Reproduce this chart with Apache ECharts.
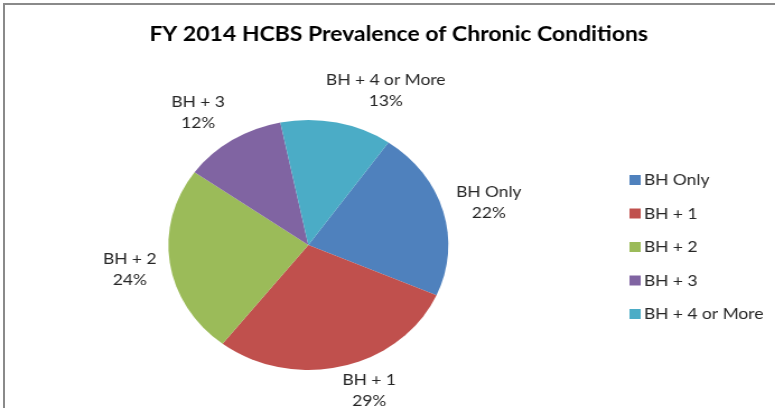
<!DOCTYPE html>
<html>
<head>
<meta charset="utf-8">
<script src="https://cdn.jsdelivr.net/npm/echarts@6/dist/echarts.min.js"></script>
<style>
  html, body { margin: 0; padding: 0; background: #ffffff; overflow: hidden; width: 775px; height: 408px; }
  #frame { position: absolute; left: 3px; top: 3px; width: 900px; height: 600px;
           border-left: 2px solid #8a8a8a; border-top: 2px solid #8a8a8a; }
  #chart { position: absolute; left: 0; top: 0; width: 692px; height: 408px;
           transform: scaleX(1.12); transform-origin: 0 0; }
</style>
</head>
<body>
<div id="frame"></div>
<div id="chart"></div>
<script>
const titleText = 'FY 2014 HCBS Prevalence of Chronic Conditions';
const categories = ['BH Only', 'BH + 1', 'BH + 2', 'BH + 3', 'BH + 4 or More'];
const values = [21.9, 28.9, 24.4, 11.9, 12.9];
const colors = ['#4F81BD', '#C0504D', '#9BBB59', '#8064A2', '#4BACC6'];

const FONT = 'Lato';
// small per-label placement tweaks (unstretched px)
const labelNudge = [[0, 0], [3, -8], [0, 2], [0, 0], [9, 0]];
const chart = echarts.init(document.getElementById('chart'), null, { renderer: 'canvas' });

function labelPos(params) {
  const data = chart.getModel().getSeriesByIndex(0).getData();
  const lay = data.getItemLayout(params.dataIndex);
  const mid = (lay.startAngle + lay.endAngle) / 2;
  const dx = Math.cos(mid), dy = Math.sin(mid);
  const gap = 12;
  const w = params.labelRect.width, h = params.labelRect.height;
  const fx = Math.max(-1, Math.min(1, dx * 3));
  const n = labelNudge[params.dataIndex] || [0, 0];
  return {
    x: lay.cx + (lay.r + gap) * dx + fx * w / 2 + n[0],
    y: lay.cy + (lay.r + gap) * dy + dy * h / 2 + n[1],
    align: 'center',
    verticalAlign: 'middle'
  };
}

chart.setOption({
  animation: false,
  backgroundColor: 'transparent',
  color: colors,
  title: {
    text: titleText,
    left: 351, top: 19, textAlign: 'center',
    textStyle: { fontFamily: FONT, fontWeight: 'bold', fontSize: 20.5, color: '#000000' }
  },
  legend: {
    orient: 'vertical',
    left: 557, top: 167,
    itemWidth: 10, itemHeight: 10, itemGap: 17.5,
    icon: 'rect',
    data: categories,
    textStyle: { fontFamily: FONT, fontSize: 15.5, color: '#262626', padding: [0, 0, 0, -2] }
  },
  series: [{
    type: 'pie',
    center: [275.3, 245],
    radius: 125,
    startAngle: 55.1,
    clockwise: true,
    avoidLabelOverlap: false,
    data: categories.map((c, i) => ({ name: c, value: values[i] })),
    itemStyle: { borderWidth: 0 },
    label: {
      show: true,
      position: 'outside',
      formatter: p => p.name + '\n' + Math.round(p.percent) + '%',
      fontFamily: FONT, fontSize: 15.5, lineHeight: 21, color: '#262626', align: 'center'
    },
    labelLine: { show: false },
    labelLayout: labelPos,
    emphasis: { disabled: true }
  }]
});
</script>
</body>
</html>
